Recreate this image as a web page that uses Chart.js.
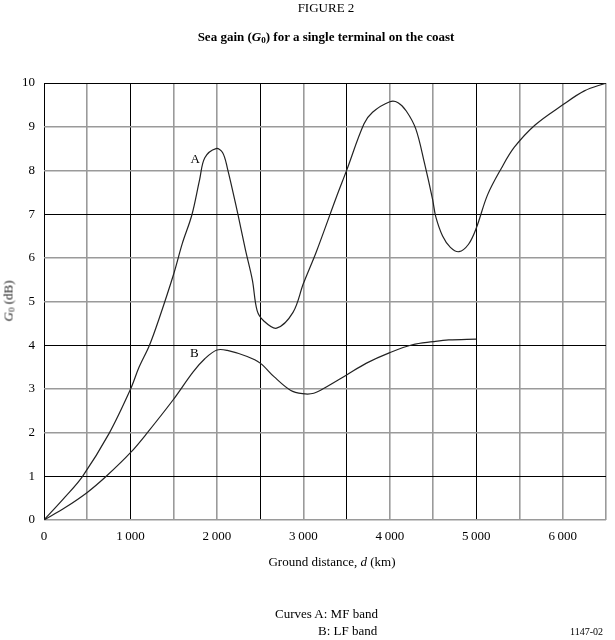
<!DOCTYPE html>
<html>
<head>
<meta charset="utf-8">
<script src="https://cdn.jsdelivr.net/npm/chart.js@4.4.1/dist/chart.umd.min.js"></script>
<style>
  html, body { margin: 0; padding: 0; background: #fff; }
  #wrap { position: relative; width: 615px; height: 640px; font-family: "Liberation Serif", "Times New Roman", serif; color: #000; }
  canvas { position: absolute; left: 0; top: 0; }
  .t { position: absolute; white-space: nowrap; line-height: 1; font-weight: normal; }
  sub { font-size: 70%; vertical-align: -2px; line-height: 0; }
</style>
</head>
<body>
<div id="wrap">
  <canvas id="c" width="615" height="640"></canvas>
  <div class="t" style="left:0;width:652px;text-align:center;top:1px;font-size:13px;">FIGURE 2</div>
  <div class="t" style="left:0;width:652px;text-align:center;top:30px;font-size:13px;font-weight:bold;">Sea gain (<i>G</i><sub>0</sub>) for a single terminal on the coast</div>
  <div class="t" style="left:8px;top:301px;font-size:13px;font-weight:normal;color:#222;transform:translate(-50%,-50%) rotate(-90deg);"><i>G</i><sub>0</sub> (dB)</div>
  <div class="t" style="left:0;width:664px;text-align:center;top:555px;font-size:13px;">Ground distance, <i>d</i> (km)</div>
  <div class="t" style="left:275px;top:607px;font-size:13px;">Curves A: MF band</div>
  <div class="t" style="left:318px;top:624px;font-size:13px;">B: LF band</div>
  <div class="t" style="left:570px;top:627px;font-size:10px;">1147-02</div>
</div>
<script>
// Curve A: MF band
const aDist = [0, 250, 446, 750, 1000, 1100, 1220, 1330, 1500, 1600, 1710, 1800, 1860, 1990, 2065, 2120, 2240, 2330, 2410, 2465, 2540, 2690, 2880, 3000, 3150, 3380, 3500, 3700, 3800, 4000, 4095, 4190, 4300, 4400, 4495, 4530, 4610, 4700, 4800, 4910, 5000, 5130, 5290, 5440, 5680, 6000, 6250, 6500];
const aGain = [0, 0.54, 1.0, 1.97, 2.99, 3.5, 4.0, 4.6, 5.63, 6.33, 6.98, 7.79, 8.29, 8.5, 8.41, 8.06, 7.02, 6.18, 5.49, 4.79, 4.56, 4.39, 4.75, 5.41, 6.14, 7.38, 8.0, 9.06, 9.33, 9.57, 9.55, 9.36, 8.95, 8.17, 7.33, 6.95, 6.5, 6.24, 6.14, 6.31, 6.68, 7.44, 8.05, 8.53, 9.04, 9.5, 9.82, 10.0];
// Curve B: LF band
const bDist = [0, 250, 500, 720, 1000, 1180, 1490, 1725, 1860, 2000, 2120, 2350, 2500, 2660, 2850, 2990, 3120, 3270, 3500, 3730, 4000, 4260, 4500, 4680, 5000];
const bGain = [0, 0.29, 0.63, 1.0, 1.54, 1.96, 2.74, 3.39, 3.69, 3.89, 3.88, 3.74, 3.59, 3.28, 2.97, 2.89, 2.90, 3.05, 3.32, 3.59, 3.83, 4.01, 4.08, 4.12, 4.14];
// Curve labels (text, distance, gain)
const curveLabels = ["A", "B"];
const labelDist = [1750, 1740];
const labelGain = [8.25, 3.8];
// Axis ranges / ticks
const xMin = 0, xMax = 6500, xStep = 500, xLabelEvery = 1000;
const yMin = 0, yMax = 10, yStep = 1;

const toPts = (xs, ys) => xs.map((x, i) => ({ x: x, y: ys[i] }));

const darkX = [0, 1000, 2500, 3500, 5000];
const darkY = [1, 4, 7, 10];

const labelPlugin = {
  id: 'curveLabels',
  afterDatasetsDraw(chart) {
    const { ctx, scales: { x, y } } = chart;
    ctx.save();
    ctx.font = '13px "Liberation Serif", serif';
    ctx.fillStyle = '#000';
    ctx.textAlign = 'center';
    ctx.textBaseline = 'middle';
    curveLabels.forEach((t, i) => {
      ctx.fillText(t, x.getPixelForValue(labelDist[i]), y.getPixelForValue(labelGain[i]));
    });
    ctx.restore();
  }
};

new Chart(document.getElementById('c'), {
  type: 'line',
  data: {
    datasets: [
      { label: 'A', data: toPts(aDist, aGain), borderColor: '#222', borderWidth: 1.2, pointRadius: 0, tension: 0.35, fill: false },
      { label: 'B', data: toPts(bDist, bGain), borderColor: '#222', borderWidth: 1.2, pointRadius: 0, tension: 0.35, fill: false }
    ]
  },
  options: {
    responsive: false,
    animation: false,
    layout: { padding: { top: 83, right: 3, bottom: 60, left: 0 } },
    plugins: { legend: { display: false }, tooltip: { enabled: false }, title: { display: false } },
    scales: {
      x: {
        type: 'linear', min: xMin, max: xMax,
        border: { display: false },
        grid: {
          drawTicks: false,
          color: c => darkX.includes(c.tick.value) ? '#000' : '#9a9a9a',
          lineWidth: c => darkX.includes(c.tick.value) ? 1 : 1.6
        },
        ticks: {
          stepSize: xStep, autoSkip: false, maxRotation: 0, padding: 9, color: '#000',
          font: { family: '"Liberation Serif", serif', size: 13 },
          callback: v => (v % xLabelEvery === 0 && v < xMax) ? (v >= 1000 ? Math.floor(v / 1000) + '\u2009' + String(v % 1000).padStart(3, '0') : String(v)) : ''
        },
        afterFit: s => { s.height = 60; }
      },
      y: {
        min: yMin, max: yMax,
        border: { display: false },
        grid: {
          drawTicks: false,
          color: c => darkY.includes(c.tick.value) ? '#000' : '#9a9a9a',
          lineWidth: c => darkY.includes(c.tick.value) ? 1 : 1.6
        },
        ticks: {
          stepSize: yStep, padding: 9, color: '#000',
          font: { family: '"Liberation Serif", serif', size: 13 }
        },
        afterFit: s => { s.width = 44; }
      }
    }
  },
  plugins: [labelPlugin]
});
</script>
</body>
</html>
